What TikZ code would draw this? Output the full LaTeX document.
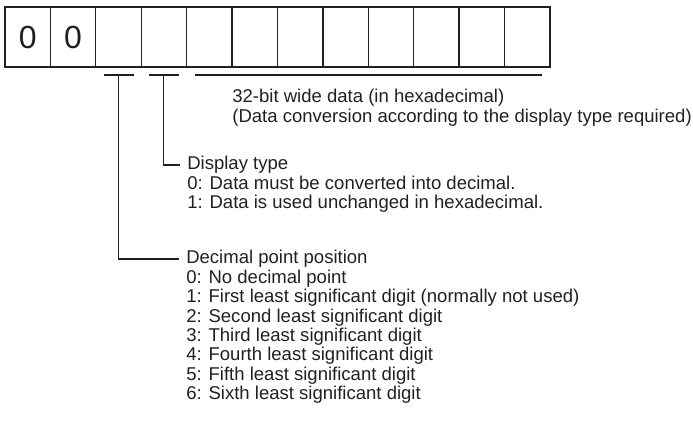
\documentclass[tikz,border=0pt]{standalone}
\usepackage{fontspec}
\setmainfont{Liberation Sans}
\usepackage{tikz}
\usetikzlibrary{positioning,calc}
\definecolor{ink}{HTML}{231F20}
\tikzset{
  cell/.style={draw=ink, line width=1pt, minimum width=34.06pt, minimum height=45pt, inner sep=0pt, outer sep=0pt, text=ink, font=\fontsize{24}{28}\selectfont},
  leader/.style={draw=ink, line width=0.8pt},
  note/.style={text=ink, align=left, inner sep=0pt, font=\fontsize{13.9}{14.5}\selectfont},
  notehead/.style={note, inner xsep=5.25pt},
}

\begin{document}
\begin{tikzpicture}[x=0.75pt, y=-0.75pt]
  \useasboundingbox (0,0) rectangle (693,425);
  % register: two fixed digits, then ten empty cells
  \node[cell] (c1) at (27.7,37) {0};
  \node[cell, right=0pt of c1] (c2) {0};
  \foreach \i [count=\j from 2] in {3,...,12}
    \node[cell, right=0pt of c\j] (c\i) {};

  % brackets under the cells
  \draw[leader] ($(c3.south)+(-15,8)$) -- ($(c3.south)+(15,8)$);
  \draw[leader] ($(c4.south)+(-15,8)$) -- ($(c4.south)+(15,8)$);
  \draw[leader] ($(c5.south west)+(8,8)$) -- ($(c12.south east)+(-8,8)$);

  \node[note, anchor=north west] (datatxt) at ($(c6.south west)+(0,22)$) {32-bit wide data (in hexadecimal)\\(Data conversion according to the display type required)};

  \node[notehead, anchor=west] (disptype) at (180,165) {Display type};
  \node[notehead, below=1.4pt of disptype.south west, anchor=north west] (displist) {0: Data must be converted into decimal.\\1: Data is used unchanged in hexadecimal.};

  \node[notehead, anchor=west] (decpos) at (179,259) {Decimal point position};
  \node[notehead, below=1.4pt of decpos.south west, anchor=north west] (declist) {0: No decimal point\\1: First least significant digit (normally not used)\\2: Second least significant digit\\3: Third least significant digit\\4: Fourth least significant digit\\5: Fifth least significant digit\\6: Sixth least significant digit};

  % leaders from the brackets to their notes
  \draw[leader] ($(c4.south)+(0,8)$) |- (disptype.west);
  \draw[leader] ($(c3.south)+(0,8)$) |- (decpos.west);
\end{tikzpicture}
\end{document}
